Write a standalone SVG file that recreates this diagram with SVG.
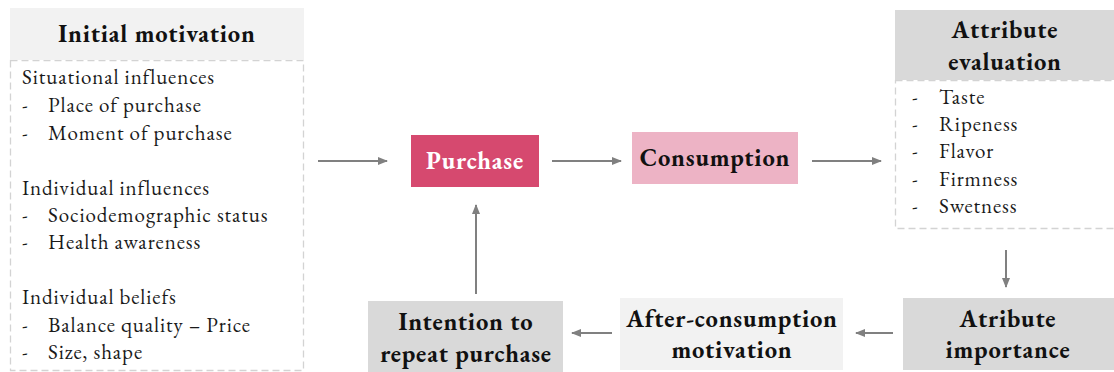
<svg xmlns="http://www.w3.org/2000/svg" width="1114" height="372" viewBox="0 0 1114 372">
  <style>
    text { font-family: "EB Garamond", "Liberation Serif", "DejaVu Serif", serif; fill: #111; }
    .title { font-size: 24.5px; font-weight: bold; text-anchor: middle; letter-spacing: 0.8px; }
    .item { font-size: 21px; fill: #1a1a1a; letter-spacing: 0.9px; }
    .dashed { fill: #fff; stroke: #d3d3d3; stroke-width: 1.3; stroke-dasharray: 7 4; }
    .conn { stroke: #808080; stroke-width: 2; fill: none; marker-end: url(#arrow); }
  </style>
  <defs>
    <marker id="arrow" viewBox="0 0 10 10" refX="9" refY="5" markerWidth="5" markerHeight="5" orient="auto">
      <path d="M0,1 L10,5 L0,9 Z" fill="#808080"/>
    </marker>
  </defs>

  <rect width="1114" height="372" fill="#fff"/>

  <!-- connectors -->
  <g id="connectors">
    <line class="conn" x1="318" y1="161" x2="387" y2="161"/>
    <line class="conn" x1="552" y1="161" x2="621" y2="161"/>
    <line class="conn" x1="812" y1="161" x2="881" y2="161"/>
    <line class="conn" x1="1006" y1="250" x2="1006" y2="287"/>
    <line class="conn" x1="893" y1="333" x2="856" y2="333"/>
    <line class="conn" x1="612" y1="333" x2="572" y2="333"/>
    <line class="conn" x1="476" y1="294" x2="476" y2="205"/>
  </g>

  <!-- initial motivation -->
  <g id="initial-motivation">
    <rect class="dashed" x="10.5" y="60.5" width="293" height="310"/>
    <rect x="10" y="8" width="294" height="52" fill="#f2f2f2"/>
    <text class="title" x="157" y="42">Initial motivation</text>
    <text class="item" x="22" y="84">Situational influences</text>
    <text class="item" x="22" y="112">-</text><text class="item" x="48" y="112">Place of purchase</text>
    <text class="item" x="22" y="140">-</text><text class="item" x="48" y="140">Moment of purchase</text>
    <text class="item" x="22" y="195">Individual influences</text>
    <text class="item" x="22" y="222">-</text><text class="item" x="48" y="222">Sociodemographic status</text>
    <text class="item" x="22" y="249">-</text><text class="item" x="48" y="249">Health awareness</text>
    <text class="item" x="22" y="304">Individual beliefs</text>
    <text class="item" x="22" y="332">-</text><text class="item" x="48" y="332">Balance quality – Price</text>
    <text class="item" x="22" y="359">-</text><text class="item" x="48" y="359">Size, shape</text>
  </g>

  <!-- purchase -->
  <g id="purchase">
    <rect x="411" y="135" width="128" height="52" fill="#d6496f"/>
    <text class="title" x="475" y="169" style="fill:#fff">Purchase</text>
  </g>

  <!-- consumption -->
  <g id="consumption">
    <rect x="632" y="132" width="166" height="52" fill="#edb3c5"/>
    <text class="title" x="715" y="166">Consumption</text>
  </g>

  <!-- attribute evaluation -->
  <g id="attribute-evaluation">
    <rect class="dashed" x="895.5" y="80.5" width="222" height="148"/>
    <rect x="895" y="10" width="219" height="70" fill="#d9d9d9"/>
    <text class="title" x="1005" y="38">Attribute</text>
    <text class="title" x="1005" y="70">evaluation</text>
    <text class="item" x="912" y="104">-</text><text class="item" x="939" y="104">Taste</text>
    <text class="item" x="912" y="131">-</text><text class="item" x="939" y="131">Ripeness</text>
    <text class="item" x="912" y="158">-</text><text class="item" x="939" y="158">Flavor</text>
    <text class="item" x="912" y="186">-</text><text class="item" x="939" y="186">Firmness</text>
    <text class="item" x="912" y="213">-</text><text class="item" x="939" y="213">Swetness</text>
  </g>

  <!-- attribute importance -->
  <g id="attribute-importance">
    <rect x="903" y="298" width="211" height="72" fill="#d9d9d9"/>
    <text class="title" x="1008" y="327">Atribute</text>
    <text class="title" x="1008" y="358">importance</text>
  </g>

  <!-- after-consumption motivation -->
  <g id="after-consumption">
    <rect x="620" y="298" width="223" height="72" fill="#f2f2f2"/>
    <text class="title" x="732" y="327">After-consumption</text>
    <text class="title" x="732" y="358">motivation</text>
  </g>

  <!-- intention to repeat purchase -->
  <g id="intention">
    <rect x="368" y="301" width="195" height="71" fill="#d9d9d9"/>
    <text class="title" x="466" y="330">Intention to</text>
    <text class="title" x="466" y="362">repeat purchase</text>
  </g>
</svg>
